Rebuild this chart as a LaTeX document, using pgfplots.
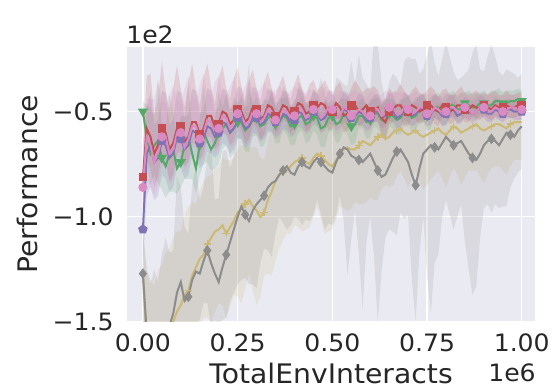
\documentclass[border=0pt]{standalone}
\usepackage{fontspec}
\setmainfont{DejaVu Sans}[FakeStretch=1.05]
\usepackage{pgfplots}
\usepackage{pgfplotstable}
\pgfplotsset{compat=1.18}
\usepgfplotslibrary{fillbetween}

\definecolor{bgc}{HTML}{EAEAF2}
\definecolor{labc}{HTML}{262626}
\definecolor{cgreen}{HTML}{55A868}
\definecolor{cred}{HTML}{C44E52}
\definecolor{cpink}{HTML}{DA8BC3}
\definecolor{cpurple}{HTML}{8172B3}
\definecolor{cgray}{HTML}{8C8C8C}
\definecolor{cyellow}{HTML}{CCB974}

% columns: x (1e6 interactions), m = mean performance (1e2),
% a = spread above the mean, b = spread below the mean
\pgfplotstableread{
x m a b
0.00 -0.50 0.05 0.05
0.01 -0.62 0.15 0.12
0.02 -0.70 0.22 0.15
0.03 -0.66 0.14 0.14
0.04 -0.64 0.30 0.20
0.05 -0.72 0.16 0.15
0.06 -0.76 0.18 0.15
0.07 -0.70 0.28 0.18
0.08 -0.68 0.18 0.20
0.09 -0.77 0.14 0.12
0.10 -0.74 0.22 0.12
0.11 -0.66 0.14 0.16
0.12 -0.62 0.24 0.20
0.13 -0.70 0.12 0.12
0.14 -0.77 0.16 0.12
0.15 -0.66 0.12 0.14
0.16 -0.60 0.22 0.15
0.17 -0.64 0.12 0.10
0.18 -0.68 0.16 0.10
0.19 -0.65 0.11 0.12
0.20 -0.60 0.20 0.15
0.21 -0.58 0.10 0.10
0.22 -0.56 0.14 0.10
0.23 -0.60 0.10 0.12
0.24 -0.58 0.15 0.12
0.25 -0.55 0.09 0.08
0.26 -0.55 0.12 0.08
0.27 -0.59 0.10 0.10
0.28 -0.57 0.18 0.12
0.29 -0.54 0.08 0.08
0.30 -0.53 0.10 0.08
0.31 -0.57 0.09 0.10
0.32 -0.56 0.12 0.10
0.33 -0.53 0.08 0.07
0.34 -0.52 0.10 0.07
0.35 -0.56 0.08 0.09
0.36 -0.55 0.12 0.10
0.37 -0.52 0.08 0.07
0.38 -0.53 0.10 0.08
0.39 -0.57 0.08 0.09
0.40 -0.56 0.12 0.10
0.41 -0.53 0.07 0.07
0.42 -0.52 0.09 0.07
0.43 -0.56 0.08 0.09
0.44 -0.55 0.11 0.09
0.45 -0.52 0.07 0.07
0.46 -0.53 0.09 0.08
0.47 -0.58 0.08 0.09
0.48 -0.57 0.12 0.10
0.49 -0.53 0.07 0.07
0.50 -0.52 0.08 0.07
0.51 -0.56 0.08 0.09
0.52 -0.55 0.11 0.09
0.53 -0.51 0.07 0.07
0.54 -0.53 0.09 0.08
0.55 -0.57 0.08 0.09
0.56 -0.56 0.10 0.09
0.57 -0.52 0.07 0.06
0.58 -0.52 0.08 0.06
0.59 -0.55 0.07 0.08
0.60 -0.54 0.10 0.08
0.61 -0.51 0.07 0.06
0.62 -0.51 0.08 0.07
0.63 -0.54 0.07 0.08
0.64 -0.55 0.11 0.09
0.65 -0.51 0.07 0.06
0.66 -0.52 0.08 0.06
0.67 -0.54 0.07 0.07
0.68 -0.53 0.09 0.08
0.69 -0.50 0.06 0.06
0.70 -0.50 0.08 0.06
0.71 -0.53 0.07 0.07
0.72 -0.52 0.09 0.07
0.73 -0.49 0.06 0.06
0.74 -0.49 0.08 0.06
0.75 -0.52 0.07 0.07
0.76 -0.51 0.08 0.07
0.77 -0.48 0.06 0.05
0.78 -0.48 0.07 0.06
0.79 -0.50 0.06 0.06
0.80 -0.50 0.08 0.07
0.81 -0.47 0.06 0.05
0.82 -0.47 0.07 0.05
0.83 -0.49 0.06 0.06
0.84 -0.49 0.08 0.06
0.85 -0.46 0.05 0.05
0.86 -0.47 0.07 0.05
0.87 -0.48 0.06 0.05
0.88 -0.48 0.07 0.06
0.89 -0.46 0.05 0.05
0.90 -0.46 0.06 0.05
0.91 -0.47 0.05 0.05
0.92 -0.47 0.07 0.05
0.93 -0.45 0.05 0.05
0.94 -0.45 0.06 0.05
0.95 -0.46 0.05 0.05
0.96 -0.46 0.06 0.05
0.97 -0.45 0.05 0.05
0.98 -0.45 0.05 0.05
0.99 -0.44 0.05 0.05
1.00 -0.45 0.05 0.05
}\tgreen

\pgfplotstableread{
x m a b
0.00 -0.81 0.15 0.15
0.01 -0.58 0.25 0.15
0.02 -0.62 0.30 0.15
0.03 -0.70 0.18 0.16
0.04 -0.66 0.22 0.15
0.05 -0.58 0.32 0.12
0.06 -0.60 0.20 0.12
0.07 -0.68 0.18 0.15
0.08 -0.65 0.26 0.15
0.09 -0.58 0.30 0.12
0.10 -0.57 0.18 0.12
0.11 -0.64 0.16 0.12
0.12 -0.62 0.26 0.12
0.13 -0.55 0.28 0.10
0.14 -0.55 0.16 0.10
0.15 -0.61 0.14 0.12
0.16 -0.58 0.24 0.12
0.17 -0.52 0.25 0.10
0.18 -0.52 0.14 0.10
0.19 -0.58 0.12 0.10
0.20 -0.56 0.22 0.10
0.21 -0.50 0.22 0.10
0.22 -0.51 0.12 0.10
0.23 -0.56 0.12 0.10
0.24 -0.54 0.20 0.10
0.25 -0.49 0.20 0.08
0.26 -0.50 0.12 0.08
0.27 -0.55 0.10 0.10
0.28 -0.53 0.18 0.10
0.29 -0.48 0.18 0.08
0.30 -0.49 0.10 0.08
0.31 -0.54 0.09 0.09
0.32 -0.52 0.16 0.09
0.33 -0.47 0.16 0.07
0.34 -0.48 0.09 0.07
0.35 -0.52 0.09 0.08
0.36 -0.51 0.14 0.08
0.37 -0.47 0.14 0.07
0.38 -0.48 0.08 0.07
0.39 -0.52 0.08 0.08
0.40 -0.50 0.13 0.08
0.41 -0.46 0.14 0.06
0.42 -0.47 0.08 0.06
0.43 -0.51 0.08 0.08
0.44 -0.50 0.13 0.08
0.45 -0.47 0.12 0.06
0.46 -0.48 0.08 0.06
0.47 -0.46 0.08 0.07
0.48 -0.47 0.12 0.07
0.49 -0.51 0.12 0.08
0.50 -0.50 0.08 0.08
0.51 -0.46 0.08 0.06
0.52 -0.48 0.12 0.06
0.53 -0.52 0.11 0.08
0.54 -0.51 0.08 0.08
0.55 -0.47 0.08 0.06
0.56 -0.47 0.12 0.06
0.57 -0.50 0.12 0.07
0.58 -0.49 0.08 0.07
0.59 -0.47 0.08 0.06
0.60 -0.50 0.11 0.07
0.61 -0.49 0.11 0.06
0.62 -0.48 0.08 0.06
0.63 -0.53 0.08 0.08
0.64 -0.55 0.11 0.08
0.65 -0.50 0.11 0.06
0.66 -0.49 0.08 0.06
0.67 -0.47 0.07 0.06
0.68 -0.47 0.10 0.06
0.69 -0.50 0.10 0.07
0.70 -0.50 0.07 0.07
0.71 -0.47 0.07 0.06
0.72 -0.48 0.10 0.06
0.73 -0.50 0.09 0.06
0.74 -0.49 0.07 0.06
0.75 -0.47 0.07 0.05
0.76 -0.47 0.09 0.05
0.77 -0.49 0.09 0.07
0.78 -0.50 0.07 0.07
0.79 -0.47 0.07 0.05
0.80 -0.48 0.09 0.05
0.81 -0.50 0.08 0.06
0.82 -0.49 0.07 0.06
0.83 -0.47 0.07 0.05
0.84 -0.47 0.09 0.05
0.85 -0.49 0.08 0.06
0.86 -0.49 0.07 0.06
0.87 -0.47 0.06 0.05
0.88 -0.48 0.08 0.05
0.89 -0.49 0.07 0.05
0.90 -0.47 0.06 0.05
0.91 -0.48 0.06 0.05
0.92 -0.49 0.08 0.05
0.93 -0.47 0.07 0.05
0.94 -0.48 0.06 0.05
0.95 -0.48 0.06 0.05
0.96 -0.47 0.07 0.05
0.97 -0.48 0.06 0.05
0.98 -0.48 0.06 0.05
0.99 -0.47 0.06 0.05
1.00 -0.47 0.06 0.05
}\tred

\pgfplotstableread{
x m a b
0.00 -0.86 0.20 0.20
0.01 -0.62 0.18 0.20
0.02 -0.66 0.22 0.20
0.03 -0.74 0.30 0.16
0.04 -0.70 0.35 0.15
0.05 -0.62 0.18 0.14
0.06 -0.62 0.15 0.12
0.07 -0.70 0.28 0.14
0.08 -0.68 0.30 0.15
0.09 -0.60 0.16 0.12
0.10 -0.60 0.14 0.12
0.11 -0.67 0.28 0.12
0.12 -0.63 0.30 0.12
0.13 -0.57 0.14 0.10
0.14 -0.57 0.12 0.10
0.15 -0.63 0.26 0.12
0.16 -0.60 0.28 0.12
0.17 -0.54 0.13 0.10
0.18 -0.55 0.12 0.10
0.19 -0.60 0.24 0.10
0.20 -0.58 0.25 0.10
0.21 -0.52 0.11 0.08
0.22 -0.53 0.10 0.08
0.23 -0.58 0.20 0.10
0.24 -0.56 0.22 0.10
0.25 -0.51 0.10 0.08
0.26 -0.52 0.10 0.08
0.27 -0.56 0.18 0.10
0.28 -0.55 0.20 0.10
0.29 -0.50 0.10 0.08
0.30 -0.51 0.10 0.08
0.31 -0.55 0.16 0.09
0.32 -0.53 0.17 0.09
0.33 -0.49 0.09 0.07
0.34 -0.50 0.09 0.07
0.35 -0.54 0.14 0.09
0.36 -0.53 0.15 0.09
0.37 -0.49 0.08 0.07
0.38 -0.50 0.08 0.07
0.39 -0.53 0.13 0.08
0.40 -0.52 0.14 0.08
0.41 -0.48 0.08 0.07
0.42 -0.49 0.08 0.07
0.43 -0.53 0.12 0.08
0.44 -0.52 0.13 0.08
0.45 -0.49 0.08 0.06
0.46 -0.50 0.08 0.06
0.47 -0.53 0.12 0.08
0.48 -0.51 0.13 0.08
0.49 -0.48 0.07 0.06
0.50 -0.49 0.07 0.06
0.51 -0.53 0.11 0.08
0.52 -0.52 0.12 0.08
0.53 -0.48 0.07 0.06
0.54 -0.49 0.07 0.06
0.55 -0.52 0.11 0.07
0.56 -0.51 0.12 0.07
0.57 -0.49 0.07 0.06
0.58 -0.50 0.07 0.06
0.59 -0.53 0.10 0.07
0.60 -0.52 0.11 0.07
0.61 -0.48 0.07 0.06
0.62 -0.49 0.07 0.06
0.63 -0.52 0.10 0.07
0.64 -0.51 0.11 0.07
0.65 -0.48 0.07 0.05
0.66 -0.48 0.07 0.05
0.67 -0.51 0.10 0.07
0.68 -0.51 0.10 0.07
0.69 -0.48 0.07 0.05
0.70 -0.49 0.07 0.05
0.71 -0.51 0.09 0.06
0.72 -0.50 0.10 0.06
0.73 -0.48 0.06 0.05
0.74 -0.48 0.06 0.05
0.75 -0.51 0.09 0.06
0.76 -0.51 0.10 0.06
0.77 -0.48 0.06 0.05
0.78 -0.49 0.06 0.05
0.79 -0.51 0.09 0.06
0.80 -0.50 0.09 0.06
0.81 -0.48 0.06 0.05
0.82 -0.48 0.06 0.05
0.83 -0.50 0.08 0.06
0.84 -0.50 0.09 0.06
0.85 -0.48 0.06 0.05
0.86 -0.49 0.06 0.05
0.87 -0.51 0.08 0.05
0.88 -0.50 0.08 0.05
0.89 -0.48 0.06 0.05
0.90 -0.48 0.06 0.05
0.91 -0.50 0.08 0.05
0.92 -0.50 0.08 0.05
0.93 -0.48 0.06 0.05
0.94 -0.49 0.06 0.05
0.95 -0.50 0.07 0.05
0.96 -0.49 0.07 0.05
0.97 -0.48 0.06 0.05
0.98 -0.48 0.06 0.05
0.99 -0.49 0.06 0.05
1.00 -0.49 0.06 0.05
}\tpink

\pgfplotstableread{
x m a b
0.00 -1.06 0.20 0.20
0.01 -0.70 0.22 0.20
0.02 -0.66 0.25 0.20
0.03 -0.74 0.18 0.18
0.04 -0.72 0.18 0.18
0.05 -0.64 0.24 0.16
0.06 -0.66 0.25 0.16
0.07 -0.72 0.16 0.16
0.08 -0.70 0.16 0.16
0.09 -0.62 0.22 0.14
0.10 -0.63 0.22 0.14
0.11 -0.68 0.15 0.14
0.12 -0.66 0.15 0.14
0.13 -0.59 0.20 0.12
0.14 -0.60 0.20 0.12
0.15 -0.65 0.14 0.12
0.16 -0.63 0.14 0.12
0.17 -0.57 0.18 0.12
0.18 -0.58 0.18 0.12
0.19 -0.62 0.12 0.10
0.20 -0.60 0.12 0.10
0.21 -0.55 0.16 0.10
0.22 -0.56 0.16 0.10
0.23 -0.60 0.11 0.10
0.24 -0.58 0.11 0.10
0.25 -0.53 0.15 0.09
0.26 -0.54 0.15 0.09
0.27 -0.58 0.10 0.09
0.28 -0.57 0.10 0.09
0.29 -0.52 0.14 0.08
0.30 -0.53 0.14 0.08
0.31 -0.56 0.09 0.08
0.32 -0.55 0.09 0.08
0.33 -0.51 0.12 0.08
0.34 -0.52 0.12 0.08
0.35 -0.55 0.09 0.07
0.36 -0.54 0.09 0.07
0.37 -0.51 0.11 0.07
0.38 -0.52 0.11 0.07
0.39 -0.55 0.08 0.07
0.40 -0.54 0.08 0.07
0.41 -0.50 0.11 0.07
0.42 -0.51 0.11 0.07
0.43 -0.54 0.08 0.06
0.44 -0.53 0.08 0.06
0.45 -0.50 0.10 0.06
0.46 -0.51 0.10 0.06
0.47 -0.54 0.08 0.06
0.48 -0.53 0.08 0.06
0.49 -0.50 0.10 0.06
0.50 -0.50 0.10 0.06
0.51 -0.53 0.07 0.06
0.52 -0.52 0.07 0.06
0.53 -0.49 0.09 0.06
0.54 -0.50 0.09 0.06
0.55 -0.53 0.07 0.05
0.56 -0.52 0.07 0.05
0.57 -0.50 0.09 0.06
0.58 -0.51 0.09 0.06
0.59 -0.54 0.07 0.05
0.60 -0.53 0.07 0.05
0.61 -0.50 0.08 0.05
0.62 -0.50 0.08 0.05
0.63 -0.53 0.07 0.05
0.64 -0.52 0.07 0.05
0.65 -0.49 0.08 0.05
0.66 -0.50 0.08 0.05
0.67 -0.53 0.06 0.05
0.68 -0.52 0.06 0.05
0.69 -0.49 0.08 0.05
0.70 -0.50 0.08 0.05
0.71 -0.52 0.06 0.05
0.72 -0.51 0.06 0.05
0.73 -0.49 0.07 0.05
0.74 -0.49 0.07 0.05
0.75 -0.52 0.06 0.05
0.76 -0.51 0.06 0.05
0.77 -0.49 0.07 0.04
0.78 -0.50 0.07 0.04
0.79 -0.52 0.06 0.05
0.80 -0.51 0.06 0.05
0.81 -0.49 0.07 0.04
0.82 -0.49 0.07 0.04
0.83 -0.52 0.06 0.04
0.84 -0.51 0.06 0.04
0.85 -0.49 0.06 0.04
0.86 -0.50 0.06 0.04
0.87 -0.51 0.06 0.04
0.88 -0.50 0.06 0.04
0.89 -0.48 0.06 0.04
0.90 -0.49 0.06 0.04
0.91 -0.51 0.05 0.04
0.92 -0.51 0.05 0.04
0.93 -0.49 0.06 0.04
0.94 -0.50 0.06 0.04
0.95 -0.51 0.05 0.04
0.96 -0.49 0.05 0.04
0.97 -0.49 0.05 0.04
0.98 -0.50 0.05 0.04
0.99 -0.50 0.05 0.04
1.00 -0.50 0.05 0.04
}\tpurple

\pgfplotstableread{
x m a b
0.00 -1.27 0.20 0.20
0.01 -1.55 0.30 0.25
0.02 -1.62 0.30 0.30
0.03 -1.70 0.45 0.20
0.04 -1.66 0.35 0.20
0.05 -1.58 0.40 0.20
0.06 -1.60 0.50 0.20
0.07 -1.52 0.35 0.20
0.08 -1.46 0.30 0.20
0.09 -1.36 0.55 0.20
0.10 -1.31 0.45 0.20
0.11 -1.40 0.35 0.20
0.12 -1.38 0.30 0.20
0.13 -1.30 0.45 0.22
0.14 -1.26 0.50 0.25
0.15 -1.27 0.35 0.22
0.16 -1.21 0.35 0.20
0.17 -1.16 0.45 0.25
0.18 -1.22 0.55 0.30
0.19 -1.27 0.35 0.22
0.20 -1.31 0.40 0.20
0.21 -1.24 0.55 0.25
0.22 -1.18 0.50 0.30
0.23 -1.12 0.35 0.28
0.24 -1.06 0.35 0.30
0.25 -1.00 0.45 0.32
0.26 -0.95 0.40 0.35
0.27 -0.99 0.55 0.30
0.28 -1.02 0.75 0.30
0.29 -0.97 0.40 0.35
0.30 -0.94 0.40 0.40
0.31 -0.92 0.35 0.30
0.32 -0.90 0.30 0.25
0.33 -0.86 0.40 0.30
0.34 -0.84 0.45 0.35
0.35 -0.83 0.35 0.25
0.36 -0.80 0.30 0.20
0.37 -0.78 0.40 0.25
0.38 -0.76 0.35 0.30
0.39 -0.79 0.30 0.25
0.40 -0.80 0.30 0.20
0.41 -0.76 0.40 0.25
0.42 -0.74 0.35 0.30
0.43 -0.76 0.30 0.25
0.44 -0.77 0.30 0.25
0.45 -0.74 0.35 0.25
0.46 -0.72 0.30 0.20
0.47 -0.74 0.40 0.25
0.48 -0.76 0.35 0.30
0.49 -0.78 0.30 0.25
0.50 -0.79 0.30 0.25
0.51 -0.74 0.40 0.25
0.52 -0.70 0.35 0.20
0.53 -0.67 0.30 0.35
0.54 -0.68 0.30 0.60
0.55 -0.71 0.45 0.40
0.56 -0.72 0.35 0.25
0.57 -0.73 0.50 0.45
0.58 -0.74 0.40 0.70
0.59 -0.72 0.35 0.40
0.60 -0.70 0.30 0.30
0.61 -0.74 0.60 0.45
0.62 -0.78 0.60 0.72
0.63 -0.81 0.45 0.45
0.64 -0.80 0.35 0.30
0.65 -0.76 0.40 0.30
0.66 -0.72 0.40 0.35
0.67 -0.69 0.35 0.40
0.68 -0.68 0.30 0.30
0.69 -0.71 0.45 0.30
0.70 -0.74 0.50 0.25
0.71 -0.80 0.55 0.50
0.72 -0.85 0.60 0.65
0.73 -0.77 0.45 0.40
0.74 -0.70 0.40 0.30
0.75 -0.68 0.45 0.60
0.76 -0.66 0.50 0.80
0.77 -0.67 0.40 0.55
0.78 -0.68 0.35 0.50
0.79 -0.65 0.40 0.35
0.80 -0.62 0.45 0.30
0.81 -0.64 0.40 0.35
0.82 -0.66 0.35 0.40
0.83 -0.65 0.30 0.35
0.84 -0.64 0.30 0.30
0.85 -0.67 0.35 0.45
0.86 -0.70 0.40 0.55
0.87 -0.72 0.50 0.65
0.88 -0.73 0.55 0.60
0.89 -0.70 0.40 0.40
0.90 -0.66 0.35 0.30
0.91 -0.64 0.40 0.30
0.92 -0.63 0.45 0.35
0.93 -0.64 0.40 0.30
0.94 -0.66 0.35 0.30
0.95 -0.63 0.30 0.32
0.96 -0.60 0.30 0.35
0.97 -0.61 0.30 0.25
0.98 -0.62 0.30 0.20
0.99 -0.59 0.25 0.20
1.00 -0.57 0.25 0.20
}\tgray

\pgfplotstableread{
x m a b
0.00 -1.27 0.20 0.20
0.01 -1.60 0.35 0.20
0.02 -1.70 0.40 0.20
0.03 -1.78 0.45 0.20
0.04 -1.75 0.50 0.20
0.05 -1.68 0.45 0.20
0.06 -1.62 0.45 0.20
0.07 -1.55 0.40 0.25
0.08 -1.50 0.40 0.30
0.09 -1.45 0.38 0.30
0.10 -1.42 0.35 0.30
0.11 -1.37 0.38 0.30
0.12 -1.35 0.40 0.30
0.13 -1.28 0.35 0.32
0.14 -1.24 0.30 0.35
0.15 -1.20 0.32 0.32
0.16 -1.18 0.35 0.30
0.17 -1.13 0.32 0.35
0.18 -1.10 0.30 0.40
0.19 -1.07 0.30 0.38
0.20 -1.06 0.30 0.35
0.21 -1.04 0.32 0.38
0.22 -1.08 0.35 0.40
0.23 -1.05 0.32 0.38
0.24 -1.02 0.30 0.35
0.25 -0.98 0.30 0.40
0.26 -0.96 0.30 0.45
0.27 -0.94 0.28 0.40
0.28 -0.92 0.25 0.35
0.29 -0.95 0.28 0.40
0.30 -0.97 0.30 0.45
0.31 -1.00 0.28 0.38
0.32 -0.98 0.25 0.30
0.33 -0.92 0.28 0.35
0.34 -0.88 0.30 0.40
0.35 -0.83 0.25 0.38
0.36 -0.80 0.20 0.35
0.37 -0.79 0.22 0.32
0.38 -0.78 0.22 0.30
0.39 -0.76 0.20 0.32
0.40 -0.74 0.20 0.30
0.41 -0.73 0.19 0.32
0.42 -0.72 0.18 0.35
0.43 -0.74 0.19 0.32
0.44 -0.75 0.20 0.30
0.45 -0.72 0.19 0.28
0.46 -0.70 0.18 0.25
0.47 -0.71 0.19 0.30
0.48 -0.73 0.20 0.35
0.49 -0.75 0.20 0.32
0.50 -0.76 0.20 0.30
0.51 -0.73 0.18 0.28
0.52 -0.70 0.16 0.25
0.53 -0.68 0.16 0.28
0.54 -0.67 0.15 0.30
0.55 -0.68 0.16 0.28
0.56 -0.68 0.16 0.25
0.57 -0.66 0.15 0.28
0.58 -0.64 0.14 0.30
0.59 -0.65 0.15 0.28
0.60 -0.66 0.16 0.25
0.61 -0.64 0.15 0.28
0.62 -0.62 0.14 0.30
0.63 -0.61 0.14 0.26
0.64 -0.63 0.15 0.22
0.65 -0.62 0.14 0.24
0.66 -0.60 0.14 0.25
0.67 -0.59 0.13 0.22
0.68 -0.58 0.12 0.20
0.69 -0.60 0.13 0.22
0.70 -0.61 0.14 0.25
0.71 -0.60 0.13 0.22
0.72 -0.59 0.13 0.20
0.73 -0.61 0.14 0.22
0.74 -0.62 0.14 0.25
0.75 -0.61 0.13 0.24
0.76 -0.60 0.12 0.22
0.77 -0.59 0.12 0.21
0.78 -0.58 0.12 0.20
0.79 -0.60 0.12 0.22
0.80 -0.61 0.13 0.25
0.81 -0.59 0.12 0.22
0.82 -0.57 0.12 0.20
0.83 -0.58 0.12 0.22
0.84 -0.60 0.12 0.25
0.85 -0.59 0.11 0.22
0.86 -0.58 0.11 0.20
0.87 -0.57 0.10 0.21
0.88 -0.56 0.10 0.22
0.89 -0.58 0.11 0.23
0.90 -0.59 0.12 0.25
0.91 -0.58 0.11 0.22
0.92 -0.57 0.10 0.20
0.93 -0.56 0.10 0.20
0.94 -0.56 0.10 0.20
0.95 -0.57 0.10 0.21
0.96 -0.58 0.11 0.22
0.97 -0.56 0.10 0.20
0.98 -0.55 0.10 0.18
0.99 -0.55 0.10 0.18
1.00 -0.55 0.10 0.18
}\tyellow

% one curve: spread band plus mean line with markers
\newcommand{\curve}[4]{%
  \addplot[draw=none, name path=#1U, forget plot]
    table[x=x, y expr=\thisrow{m}+\thisrow{a}] {#2};
  \addplot[draw=none, name path=#1L, forget plot]
    table[x=x, y expr=\thisrow{m}-\thisrow{b}] {#2};
  \addplot[draw=none, fill=#3, fill opacity=0.18, forget plot]
    fill between[of=#1U and #1L];
  \addplot[#3, line width=2bp, mark repeat=5, mark size=3.8bp,
    mark options={solid, fill=#3, draw=#3}, #4]
    table[x=x, y=m] {#2};
}

\begin{document}
\begin{tikzpicture}
\begin{axis}[
  name=ax,
  scale only axis,
  width=408bp, height=275bp,
  xmin=-0.042, xmax=1.035,
  ymin=-1.5, ymax=-0.193,
  axis background/.style={fill=bgc},
  axis line style={draw=none},
  major tick length=0pt,
  grid=major,
  major grid style={white, line width=1.3bp},
  xtick={0,0.25,0.5,0.75,1},
  xticklabels={0.00,0.25,0.50,0.75,1.00},
  ytick={-1.5,-1,-0.5},
  yticklabels={−1.5,−1.0,−0.5},
  tick label style={font=\fontsize{24}{28}\selectfont, text=labc},
  xticklabel style={yshift=-8bp},
  yticklabel style={xshift=-10bp},
  xlabel={TotalEnvInteracts},
  ylabel={Performance},
  label style={font=\fontsize{27}{30}\selectfont, text=labc},
  xlabel style={at={(axis description cs:0.5,-0.188)}, anchor=center},
  ylabel style={at={(axis description cs:-0.245,0.5)}, anchor=center},
  clip=true,
]
\curve{y}{\tyellow}{cyellow}{mark=+, mark options={line width=1.5bp}}
\curve{k}{\tgray}{cgray}{mark=diamond*}
\curve{g}{\tgreen}{cgreen}{mark=triangle*, mark options={rotate=180}}
\curve{u}{\tpurple}{cpurple}{mark=pentagon*}
\curve{r}{\tred}{cred}{mark=square*, mark size=3.3bp}
\curve{p}{\tpink}{cpink}{mark=*, mark size=3.5bp}
\end{axis}
% offset texts of the scaled axes
\node[font=\fontsize{24}{28}\selectfont, text=labc, anchor=center]
  at ([shift={(23bp,12bp)}]ax.north west) {1e2};
\node[font=\fontsize{24}{28}\selectfont, text=labc, anchor=center]
  at ([shift={(385bp,-51bp)}]ax.south west) {1e6};
\pgfresetboundingbox
\path[use as bounding box] (-127bp,-70bp) rectangle (426bp,322bp);
\end{tikzpicture}
\end{document}
